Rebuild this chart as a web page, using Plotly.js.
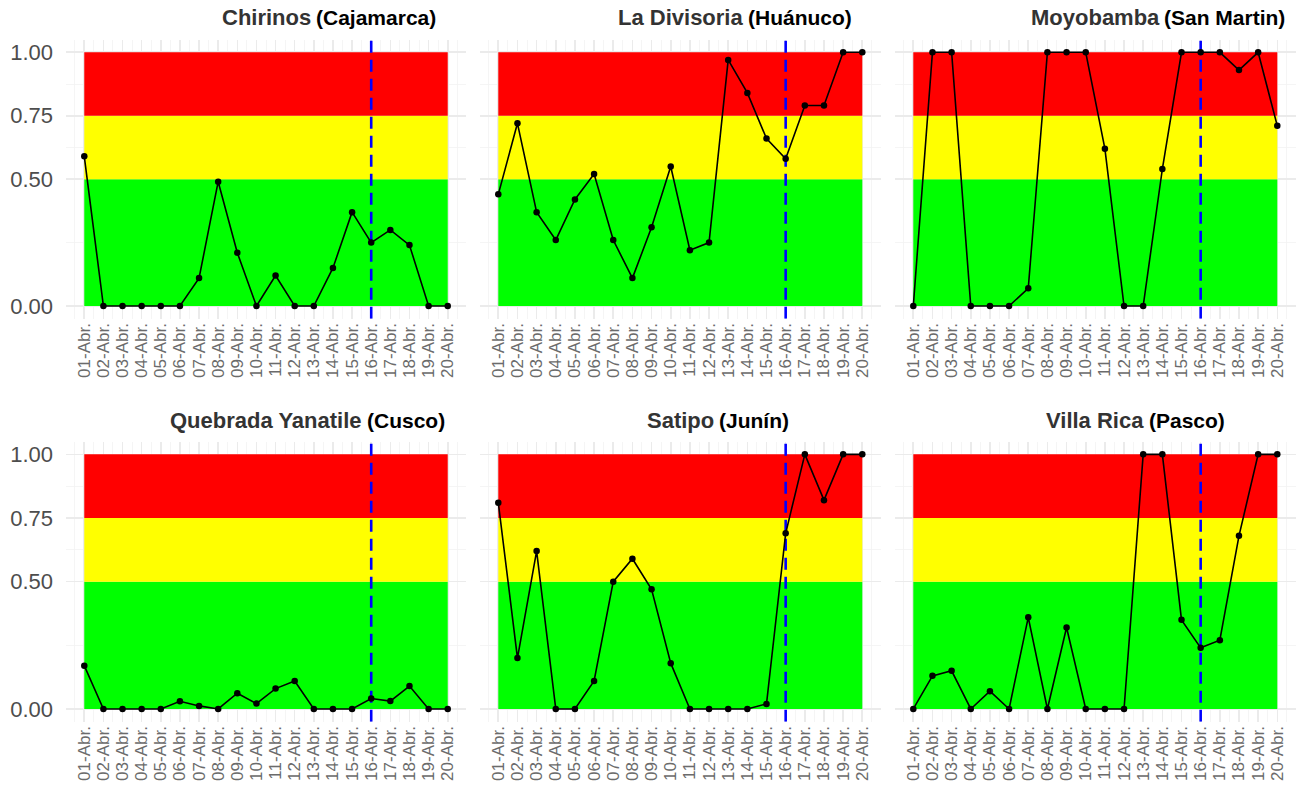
<!DOCTYPE html>
<html>
<head>
<meta charset="utf-8">
<script src="https://cdn.plot.ly/plotly-3.0.1.min.js"></script>
<style>
html,body{margin:0;padding:0;background:#fff;}
#chart{width:1297px;height:795px;}
</style>
</head>
<body>
<div id="chart"></div>
<script>
const dates = ['01-Abr.','02-Abr.','03-Abr.','04-Abr.','05-Abr.','06-Abr.','07-Abr.','08-Abr.','09-Abr.','10-Abr.',
               '11-Abr.','12-Abr.','13-Abr.','14-Abr.','15-Abr.','16-Abr.','17-Abr.','18-Abr.','19-Abr.','20-Abr.'];
const cutoffDate = '16-Abr.';

const names   = ['Chirinos','La Divisoria','Moyobamba','Quebrada Yanatile','Satipo','Villa Rica'];
const regions = ['(Cajamarca)','(Huánuco)','(San Martin)','(Cusco)','(Junín)','(Pasco)'];

const chirinos   = [0.59,0,0,0,0,0,0.11,0.49,0.21,0,0.12,0,0,0.15,0.37,0.25,0.30,0.24,0,0];
const laDivisoria= [0.44,0.72,0.37,0.26,0.42,0.52,0.26,0.11,0.31,0.55,0.22,0.25,0.97,0.84,0.66,0.58,0.79,0.79,1,1];
const moyobamba  = [0,1,1,0,0,0,0.07,1,1,1,0.62,0,0,0.54,1,1,1,0.93,1,0.71];
const yanatile   = [0.17,0,0,0,0,0.03,0.012,0,0.062,0.021,0.08,0.11,0,0,0,0.041,0.031,0.09,0,0];
const satipo     = [0.81,0.20,0.62,0,0,0.11,0.50,0.59,0.47,0.18,0,0,0,0,0.02,0.69,1,0.82,1,1];
const villaRica  = [0,0.13,0.15,0,0.07,0,0.36,0,0.32,0,0,0,1,1,0.35,0.24,0.27,0.68,1,1];
const seriesList = [chirinos, laDivisoria, moyobamba, yanatile, satipo, villaRica];

const bandBreaks = [0, 0.5, 0.75, 1];
const bandColors = ['#00FF00','#FFFF00','#FF0000'];
const yTickVals = [0, 0.5, 0.75, 1];
const yTickText = ['0.00','0.50','0.75','1.00'];
const yRange = [-0.05, 1.05];

const W = 1297, H = 795;
const colX = [[66.1,465.9],[480.1,880.5],[895.1,1295.5]];
const rowY = [[39.6,318.7],[441.6,721.7]];
const titleY = [18, 420];

const xIdx = dates.map((d,i)=>i);
const cutIdx = dates.indexOf(cutoffDate);
const xFirst = xIdx[0], xLast = xIdx[xIdx.length-1];

const cv = document.createElement('canvas').getContext('2d');
const titleFontSize = 22;
cv.font = 'bold ' + titleFontSize + 'px "Liberation Sans", Arial, sans-serif';

const data = [], annotations = [];
const layout = {
  width: W, height: H,
  margin: {l:0, r:0, t:0, b:0},
  paper_bgcolor: '#ffffff', plot_bgcolor: '#ffffff',
  showlegend: false,
  font: {family: '"Liberation Sans", Arial, sans-serif', color: '#4d4d4d'}
};

for (let p = 0; p < 6; p++) {
  const r = Math.floor(p/3), c = p % 3;
  const ax = p === 0 ? '' : String(p+1);
  const xa = 'x' + ax, ya = 'y' + ax;
  layout['xaxis' + ax] = {
    domain: [colX[c][0]/W, colX[c][1]/W],
    anchor: ya,
    type: 'linear',
    range: [-0.95, dates.length - 1 + 0.95],
    tickvals: xIdx, ticktext: dates,
    tickangle: -90,
    tickfont: {size: 17, color: '#6b6b6b'},
    showgrid: true, gridcolor: '#ebebeb', gridwidth: 1.6,
    minor: {dtick: 0.5, tick0: 0.5, showgrid: true, gridcolor: '#f2f2f2', gridwidth: 0.8},
    zeroline: false, showline: false, ticks: '', fixedrange: true
  };
  layout['yaxis' + ax] = {
    domain: [1 - rowY[r][1]/H, 1 - rowY[r][0]/H],
    anchor: xa,
    range: yRange,
    tickvals: yTickVals, ticktext: yTickText,
    showticklabels: c === 0,
    tickfont: {size: 22, color: '#4d4d4d'},
    ticklabelstandoff: 12,
    showgrid: true, gridcolor: '#ebebeb', gridwidth: 1.6,
    minor: {tickvals: [0.25, 0.625, 0.875], showgrid: true, gridcolor: '#f2f2f2', gridwidth: 0.8},
    zeroline: false, showline: false, ticks: '', fixedrange: true
  };
  for (let b = 0; b < 3; b++) {
    data.push({
      x: [xFirst, xLast, xLast, xFirst, xFirst],
      y: [bandBreaks[b], bandBreaks[b], bandBreaks[b+1], bandBreaks[b+1], bandBreaks[b]],
      xaxis: xa, yaxis: ya, type: 'scatter', mode: 'none',
      fill: 'toself', fillcolor: bandColors[b], hoverinfo: 'skip'
    });
  }
  data.push({
    x: [cutIdx, cutIdx], y: yRange, xaxis: xa, yaxis: ya,
    type: 'scatter', mode: 'lines',
    line: {color: '#0000FF', width: 2.6, dash: '12px,7px'}, hoverinfo: 'skip'
  });
  data.push({
    x: xIdx, y: seriesList[p], xaxis: xa, yaxis: ya,
    type: 'scatter', mode: 'lines+markers',
    line: {color: '#000000', width: 1.6},
    marker: {color: '#000000', size: 6.5},
    hoverinfo: 'skip', cliponaxis: false
  });
  const cx = (colX[c][0] + colX[c][1]) / 2;
  const nameW = cv.measureText(names[p]).width;
  annotations.push({xref: 'paper', yref: 'paper', x: cx/W, y: 1 - titleY[r]/H,
    xanchor: 'center', yanchor: 'middle', showarrow: false,
    text: '<b>' + names[p] + '</b>',
    font: {size: titleFontSize, color: '#333333', family: '"Liberation Sans", Arial, sans-serif'}});
  annotations.push({xref: 'paper', yref: 'paper', x: (cx + nameW/2 + 3)/W, y: 1 - titleY[r]/H,
    xanchor: 'left', yanchor: 'middle', showarrow: false,
    text: '<b>' + regions[p] + '</b>',
    font: {size: 21, color: '#000000', family: '"Liberation Sans", Arial, sans-serif'}});
}
layout.annotations = annotations;

Plotly.newPlot('chart', data, layout, {staticPlot: true, displayModeBar: false});
</script>
</body>
</html>
